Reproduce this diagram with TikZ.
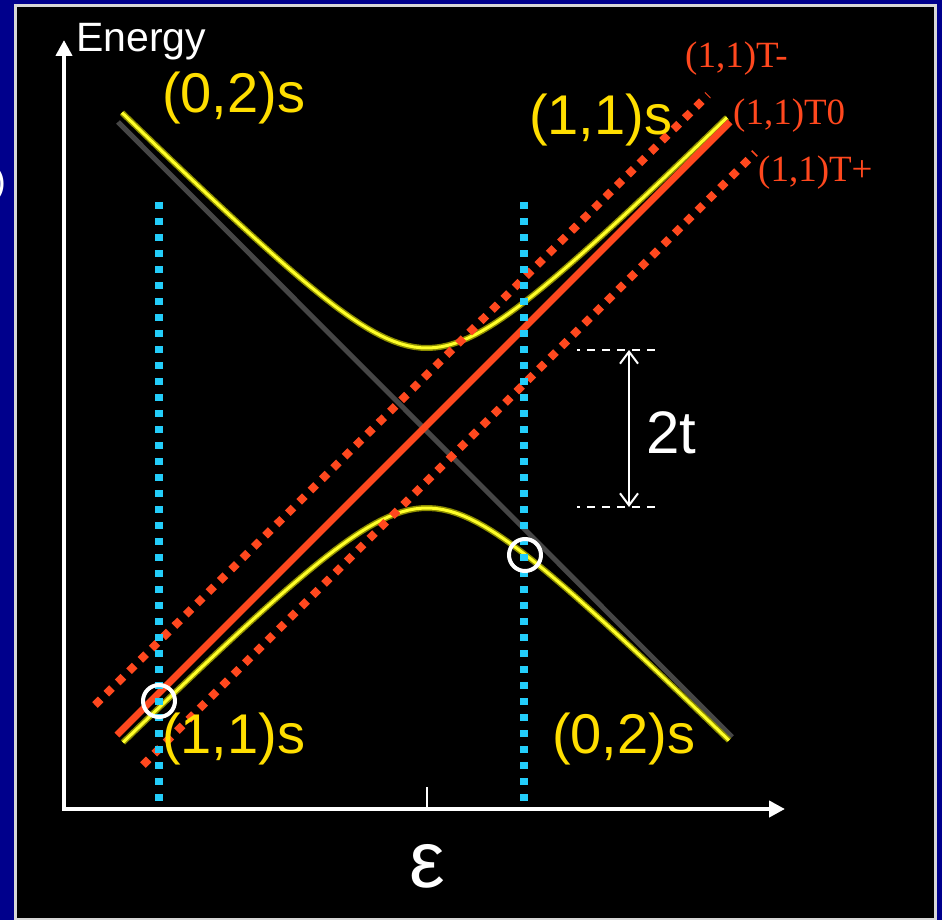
\documentclass[tikz,border=0pt]{standalone}
\usepackage{fontspec}
\setmainfont{Liberation Sans}
\newfontfamily\serifmark{Liberation Serif}
\usepackage{tikz}
\usetikzlibrary{arrows.meta,positioning,calc}
\definecolor{dqdNavy}{RGB}{0,0,140}
\definecolor{dqdFrame}{RGB}{215,215,215}
\definecolor{dqdGold}{RGB}{255,222,0}
\definecolor{dqdYellow}{RGB}{255,255,40}
\definecolor{dqdOlive}{RGB}{140,140,0}
\definecolor{dqdRed}{RGB}{255,72,30}
\definecolor{dqdCyan}{RGB}{35,205,250}
\definecolor{dqdGray}{RGB}{70,70,70}
\tikzset{
  statelbl/.style={text=dqdGold,font=\fontsize{56}{60}\selectfont,inner sep=0pt,
                   anchor=base west},
  tripletlbl/.style={text=dqdRed,font=\serifmark\fontsize{37}{40}\selectfont,
                     inner sep=0pt,anchor=base west},
  tripletdots/.style={dqdRed,line width=8pt,dash pattern=on 8pt off 8pt},
  gatedots/.style={dqdCyan,line width=8pt,dash pattern=on 7pt off 9pt},
  branch/.style={dqdYellow,line width=3pt,preaction={draw=dqdOlive,line width=6pt}},
  ring/.style={draw=white,line width=4pt,circle,minimum size=32pt,inner sep=0pt},
  gapmark/.style={white,line width=2pt,dash pattern=on 8pt off 7pt,dash phase=5pt}
}

\begin{document}
\begin{tikzpicture}[x=1pt,y=-1pt]
  \useasboundingbox (0,0) rectangle (942,920);
  \fill[dqdNavy] (0,0) rectangle (942,920);
  \draw[draw=dqdFrame,fill=black,line width=3pt] (15,6) rectangle (935,919);
  \node[text=white,font=\fontsize{36}{40}\selectfont,anchor=base east,inner sep=0pt]
    (cutParen) at (6,194) {)};

  \coordinate (yTop) at (64,40);
  \coordinate (origin) at (64,809);
  \coordinate (xEnd) at (785,809);
  \coordinate (tickTop) at (427,787);
  \coordinate (tickBot) at (427,809);
  \coordinate (s02a) at (118,122);
  \coordinate (s02b) at (732,737);
  \coordinate (t0a) at (117,735);
  \coordinate (t0b) at (730,122);
  \coordinate (tma) at (95,705);
  \coordinate (tmb) at (708,95);
  \coordinate (tpa) at (143,765);
  \coordinate (tpb) at (755,153);
  \coordinate (gateLa) at (159,202);
  \coordinate (gateLb) at (159,801);
  \coordinate (gateRa) at (524,202);
  \coordinate (gateRb) at (524,801);
  \coordinate (gapTop) at (629,350);
  \coordinate (gapBot) at (629,507);

  \draw[white,line width=4pt,{Triangle[length=16pt,width=16pt]}-{Triangle[length=16pt,width=16pt]}]
    (yTop) -- (origin) -- (xEnd);
  \draw[white,line width=2pt] (tickTop) -- (tickBot);

  \draw[dqdGray,line width=5pt] (s02a) -- (s02b);
  \draw[branch] plot[domain=122:727,samples=90]
    (\x,{428-100*sqrt(((\x-427)/100)^2+0.64)});
  \draw[branch] plot[domain=123:729,samples=90]
    (\x,{428+100*sqrt(((\x-427)/100)^2+0.64)});
  \draw[dqdRed,line width=7pt] (t0a) -- (t0b);
  \draw[tripletdots] (tma) -- (tmb);
  \draw[tripletdots] (tpa) -- (tpb);
  \draw[gatedots] (gateLa) -- (gateLb);
  \draw[gatedots] (gateRa) -- (gateRb);

  \node[ring] (ringL) at (159,701) {};
  \node[ring] (ringR) at (525,555) {};

  \draw[gapmark] (577,350) -- (655,350);
  \draw[gapmark] (577,507) -- (655,507);
  \draw[white,line width=2pt,{Straight Barb[length=12pt,width=18pt]}-{Straight Barb[length=12pt,width=18pt]}]
    (gapTop) -- (gapBot);
  \node[text=white,font=\fontsize{60}{64}\selectfont,anchor=base west,inner sep=0pt]
    (gapLbl) at (646,453) {2t};

  \node[text=white,font=\fontsize{41}{44}\selectfont,anchor=base west,inner sep=0pt]
    (energyLbl) at (76,52) {Energy};
  \node[text=white,font=\fontsize{80}{84}\selectfont,anchor=base,inner sep=0pt]
    (epsLbl) at (427,887) {ε};

  \node[statelbl] (s02TopL) at (162,113) {(0,2)s};
  \node[statelbl] (s11TopR) at (529,135) {(1,1)s};
  \node[statelbl] (s11BotL) at (162,753) {(1,1)s};
  \node[statelbl] (s02BotR) at (552,753) {(0,2)s};

  \node[tripletlbl] (tMinus) at (685,68) {(1,1)T-};
  \node[tripletlbl] (tZero) at (733,125) {(1,1)T0};
  \node[tripletlbl] (tPlus) at (758,182) {(1,1)T+};
\end{tikzpicture}
\end{document}
